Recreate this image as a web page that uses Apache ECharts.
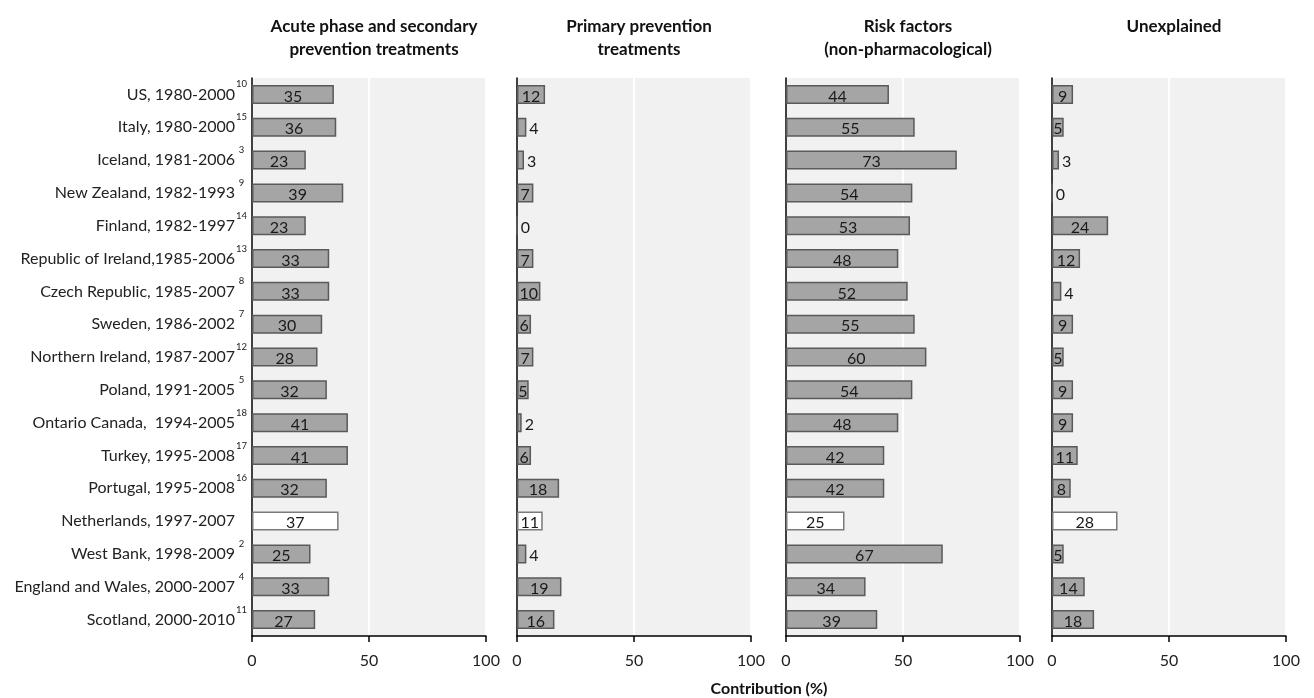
<!DOCTYPE html>
<html><head><meta charset="utf-8">
<script src="https://cdn.jsdelivr.net/npm/echarts@6/dist/echarts.min.js"></script>
<style>html,body{margin:0;padding:0;background:#fff}#c{width:1314px;height:698px}</style>
</head><body><div id="c"></div>
<script>
const categories = ["US, 1980-2000","Italy, 1980-2000","Iceland, 1981-2006","New Zealand, 1982-1993","Finland, 1982-1997","Republic of Ireland,1985-2006","Czech Republic, 1985-2007","Sweden, 1986-2002","Northern Ireland, 1987-2007","Poland, 1991-2005","Ontario Canada,  1994-2005","Turkey, 1995-2008","Portugal, 1995-2008","Netherlands, 1997-2007","West Bank, 1998-2009","England and Wales, 2000-2007","Scotland, 2000-2010"];
const refs = ["10","15","3","9","14","13","8","7","12","5","18","17","16","","2","4","11"];
const acute = [35,36,23,39,23,33,33,30,28,32,41,41,32,37,25,33,27];
const primary = [12,4,3,7,0,7,10,6,7,5,2,6,18,11,4,19,16];
const risk = [44,55,73,54,53,48,52,55,60,54,48,42,42,25,67,34,39];
const unexplained = [9,5,3,0,24,12,4,9,5,9,9,11,8,28,5,14,18];
const panelTitles = ["Acute phase and secondary\nprevention treatments","Primary prevention\ntreatments","Risk factors\n(non-pharmacological)","Unexplained"];
const xTicks = [0,50,100];
const highlight = "Netherlands, 1997-2007";
const xAxisName = "Contribution (%)";

const FONT = "Lato, 'Open Sans', sans-serif";
const lefts = [252, 517, 786, 1052];
const W = 234, TOP = 78, H = 558;
const seriesData = [acute, primary, risk, unexplained];

const chart = echarts.init(document.getElementById('c'), null, {renderer:'canvas'});
const grids = [], xAxes = [], yAxes = [], series = [], titles = [];
lefts.forEach((l, i) => {
  grids.push({left: l, top: TOP, width: W, height: H, show: true, backgroundColor: '#f1f1f1', borderWidth: 0});
  xAxes.push({
    type: 'value', gridIndex: i, min: xTicks[0], max: xTicks[xTicks.length-1], interval: 50,
    axisLine: {show: true, lineStyle: {color: '#000', width: 1.5}},
    axisTick: {show: true, length: 6, lineStyle: {color: '#000', width: 1.5}},
    axisLabel: {fontFamily: FONT, fontSize: 16, color: '#222', margin: 17},
    splitLine: {show: true, lineStyle: {color: '#ffffff', width: 2}}
  });
  yAxes.push({
    type: 'category', gridIndex: i, data: categories, inverse: true,
    axisLine: {show: true, lineStyle: {color: '#000', width: 1.5}},
    axisTick: {show: false},
    axisLabel: i === 0 ? {
      show: true, fontFamily: FONT, fontSize: 16, color: '#222', margin: 4,
      formatter: (v, idx) => '{a|' + v + '}' + '{s|' + (refs[idx] || ' ') + '}',
      rich: {
        a: {fontFamily: FONT, fontSize: 16, color: '#222'},
        s: {fontFamily: FONT, fontSize: 9.5, color: '#222', padding: [0, 0, 20, 0], width: 13, align: 'left'}
      }
    } : {show: false},
    splitLine: {show: false}
  });
  series.push({
    type: 'bar', xAxisIndex: i, yAxisIndex: i, barWidth: 19,
    data: seriesData[i].map((v, k) => ({
      value: v,
      itemStyle: categories[k] === highlight ? {color: '#ffffff', borderColor: '#7a7a7a', borderWidth: 1.5}
                                              : {color: '#a5a5a5', borderColor: '#5a5a5a', borderWidth: 1.5},
      label: {position: v < 5 ? 'right' : 'inside', distance: 3}
    })),
    label: {show: true, fontFamily: FONT, fontSize: 16, color: '#1a1a1a', formatter: '{c}', offset: [0, 2]}
  });
  titles.push({
    text: panelTitles[i], left: l + W / 2, top: 10, textAlign: 'center',
    textStyle: {fontFamily: FONT, fontSize: 17, fontWeight: 'bold', color: '#111', lineHeight: 23}
  });
});
titles.push({
  text: xAxisName, left: 764, top: 676, textAlign: 'center',
  textStyle: {fontFamily: FONT, fontSize: 16, fontWeight: 'bold', color: '#111'}
});

chart.setOption({
  animation: false,
  backgroundColor: '#fff',
  title: titles, grid: grids, xAxis: xAxes, yAxis: yAxes, series: series
});
</script></body></html>
